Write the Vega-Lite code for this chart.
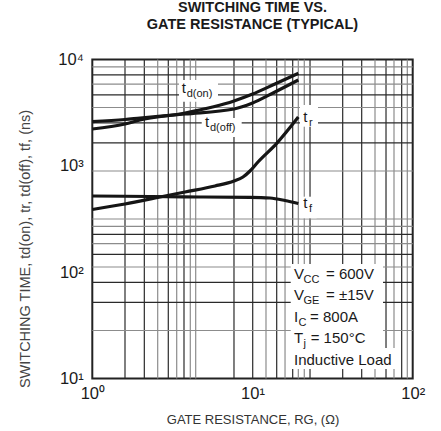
{
  "$schema": "https://vega.github.io/schema/vega-lite/v6.json",
  "autosize": {"type": "none"},
  "padding": {"left": 92.3, "top": 59.5, "right": 28.3, "bottom": 52.5},
  "width": 320.4,
  "height": 319,
  "background": "white",
  "title": {
    "text": ["SWITCHING TIME VS.", "GATE RESISTANCE (TYPICAL)"],
    "font": "Liberation Sans",
    "fontSize": 14.5,
    "fontWeight": "bold",
    "color": "#1a1a1a",
    "lineHeight": 17,
    "anchor": "middle",
    "frame": "group",
    "offset": 19
  },
  "datasets": {
    "curves": [
      {"series": "td(on)", "r": 1, "t": 2221},
      {"series": "td(on)", "r": 1.6, "t": 2475},
      {"series": "td(on)", "r": 1.985, "t": 2698},
      {"series": "td(on)", "r": 3.791, "t": 3141},
      {"series": "td(on)", "r": 7.664, "t": 4072},
      {"series": "td(on)", "r": 9.93, "t": 4708},
      {"series": "td(on)", "r": 13.81, "t": 5885},
      {"series": "td(on)", "r": 19.32, "t": 7419},
      {"series": "td(off)", "r": 1, "t": 2601},
      {"series": "td(off)", "r": 1.6, "t": 2728},
      {"series": "td(off)", "r": 1.985, "t": 2818},
      {"series": "td(off)", "r": 3.791, "t": 3073},
      {"series": "td(off)", "r": 7.664, "t": 3424},
      {"series": "td(off)", "r": 9.93, "t": 3875},
      {"series": "td(off)", "r": 13.81, "t": 4948},
      {"series": "td(off)", "r": 19.32, "t": 6417},
      {"series": "tr", "r": 1, "t": 388.6},
      {"series": "tr", "r": 1.6, "t": 437.6},
      {"series": "tr", "r": 2.647, "t": 509.3},
      {"series": "tr", "r": 3.791, "t": 567.5},
      {"series": "tr", "r": 5.834, "t": 646.3},
      {"series": "tr", "r": 7.664, "t": 720.1},
      {"series": "tr", "r": 8.723, "t": 785.3},
      {"series": "tr", "r": 9.647, "t": 894.4},
      {"series": "tr", "r": 10.82, "t": 1087},
      {"series": "tr", "r": 14.16, "t": 1629},
      {"series": "tr", "r": 19.32, "t": 2880},
      {"series": "tf", "r": 1, "t": 520.4},
      {"series": "tf", "r": 2.292, "t": 514.8},
      {"series": "tf", "r": 4.702, "t": 509.3},
      {"series": "tf", "r": 9.647, "t": 506},
      {"series": "tf", "r": 12.86, "t": 498.4},
      {"series": "tf", "r": 15.96, "t": 472.2},
      {"series": "tf", "r": 19.32, "t": 442.4}
    ],
    "gridVDark": [
      {"r": 1.6}, {"r": 2.112}, {"r": 2.981}, {"r": 3.736},
      {"r": 7.664}, {"r": 10.03}, {"r": 14.16}, {"r": 17.82}, {"r": 22.86},
      {"r": 36.56}, {"r": 48.04}, {"r": 68.14}, {"r": 85.36}
    ],
    "gridVLight": [
      {"r": 2.56}, {"r": 3.364}, {"r": 4.09}, {"r": 4.42},
      {"r": 12.14}, {"r": 15.96}, {"r": 19.32}, {"r": 21.05},
      {"r": 58.17}, {"r": 76.43}, {"r": 92.53}
    ],
    "gridHDark": [
      {"t": 1643}, {"t": 2530}, {"t": 4648}, {"t": 7155},
      {"t": 51.96}, {"t": 80}, {"t": 147}, {"t": 226.3}
    ],
    "gridHLight": [
      {"t": 894.4}, {"t": 3536}, {"t": 5857}, {"t": 8538}, {"t": 316.2},
      {"t": 28.28}, {"t": 111.8}, {"t": 185.2}, {"t": 270}
    ],
    "boxes": [
      {"r": 3.477, "r2": 6.09, "t": 4011, "t2": 6417},
      {"r": 4.818, "r2": 8.561, "t": 1867, "t2": 2818},
      {"r": 19.8, "r2": 25.64, "t": 2334, "t2": 3734},
      {"r": 19.8, "r2": 25.16, "t": 321.1, "t2": 512.6},
      {"r": 17.32, "r2": 65.26, "t": 77.4, "t2": 119.4},
      {"r": 17.32, "r2": 65.26, "t": 48.06, "t2": 77.4},
      {"r": 17.32, "r2": 65.26, "t": 30.5, "t2": 48.06},
      {"r": 17.32, "r2": 65.26, "t": 19.35, "t2": 30.5},
      {"r": 17.32, "r2": 81.3, "t": 12.28, "t2": 19.35}
    ],
    "mainText": [
      {"label": "t", "r": 3.614, "t": 4842},
      {"label": "t", "r": 5.051, "t": 2334},
      {"label": "t", "r": 20.76, "t": 2601},
      {"label": "t", "r": 20.76, "t": 398.8},
      {"label": "V", "r": 18.16, "t": 86.26},
      {"label": "= 600V", "r": 28.76, "t": 86.26},
      {"label": "V", "r": 18.16, "t": 54.74},
      {"label": "= ±15V", "r": 28.76, "t": 54.74},
      {"label": "I", "r": 18.16, "t": 34.0},
      {"label": "= 800A", "r": 22.86, "t": 34.0},
      {"label": "T", "r": 18.16, "t": 21.57},
      {"label": "= 150°C", "r": 23.08, "t": 21.57},
      {"label": "Inductive Load", "r": 18.16, "t": 13.54}
    ],
    "subText": [
      {"label": "d(on)", "r": 3.885, "t": 4842},
      {"label": "d(off)", "r": 5.429, "t": 2334},
      {"label": "r", "r": 22.53, "t": 2601},
      {"label": "f", "r": 22.53, "t": 398.8},
      {"label": "CC", "r": 20.82, "t": 86.26},
      {"label": "GE", "r": 20.82, "t": 54.74},
      {"label": "C", "r": 19.37, "t": 34.0},
      {"label": "j", "r": 20.82, "t": 21.57}
    ]
  },
  "layer": [
    {
      "data": {"name": "curves"},
      "mark": {"type": "line", "color": "#151515", "strokeWidth": 3.2, "interpolate": "monotone", "opacity": 0},
      "encoding": {
        "x": {
          "field": "r", "type": "quantitative",
          "scale": {"type": "log", "domain": [1, 100], "nice": false},
          "axis": {
            "values": [1, 10, 100],
            "labelExpr": "datum.value == 1 ? '10⁰' : datum.value == 10 ? '10¹' : '10²'",
            "labelPadding": 7,
            "title": "GATE RESISTANCE, RG, (Ω)",
            "titleFontSize": 13,
            "titleBaseline": "alphabetic",
            "titleY": 44.5
          }
        },
        "y": {
          "field": "t", "type": "quantitative",
          "scale": {"type": "log", "domain": [10, 10000], "nice": false},
          "axis": {
            "values": [10, 100, 1000, 10000],
            "labelExpr": "datum.value == 10 ? '10¹' : datum.value == 100 ? '10²' : datum.value == 1000 ? '10³' : '10⁴'",
            "labelPadding": 9,
            "title": "SWITCHING TIME, td(on), tr, td(off), tf, (ns)",
            "titleFontSize": 14.5,
            "titleColor": "#444",
            "titleX": -67,
            "titleY": 189,
            "titleBaseline": "middle",
            "titleAngle": 270
          }
        },
        "detail": {"field": "series", "type": "nominal"}
      }
    },
    {
      "data": {"name": "gridVDark"},
      "mark": {"type": "rule", "color": "#2a2a2a", "strokeWidth": 1.2},
      "encoding": {
        "x": {"field": "r", "type": "quantitative", "scale": {"type": "log", "domain": [1, 100], "nice": false}}
      }
    },
    {
      "data": {"name": "gridVLight"},
      "mark": {"type": "rule", "color": "#8c8c8c", "strokeWidth": 1.2},
      "encoding": {
        "x": {"field": "r", "type": "quantitative", "scale": {"type": "log", "domain": [1, 100], "nice": false}}
      }
    },
    {
      "data": {"name": "gridHDark"},
      "mark": {"type": "rule", "color": "#2a2a2a", "strokeWidth": 1.2},
      "encoding": {
        "y": {"field": "t", "type": "quantitative", "scale": {"type": "log", "domain": [10, 10000], "nice": false}}
      }
    },
    {
      "data": {"name": "gridHLight"},
      "mark": {"type": "rule", "color": "#8c8c8c", "strokeWidth": 1.2},
      "encoding": {
        "y": {"field": "t", "type": "quantitative", "scale": {"type": "log", "domain": [10, 10000], "nice": false}}
      }
    },
    {
      "data": {"name": "curves"},
      "mark": {"type": "line", "color": "#151515", "strokeWidth": 3.2, "interpolate": "monotone"},
      "encoding": {
        "x": {"field": "r", "type": "quantitative", "scale": {"type": "log", "domain": [1, 100], "nice": false}},
        "y": {"field": "t", "type": "quantitative", "scale": {"type": "log", "domain": [10, 10000], "nice": false}},
        "detail": {"field": "series", "type": "nominal"}
      }
    },
    {
      "data": {"name": "boxes"},
      "mark": {"type": "rect", "color": "white", "opacity": 1},
      "encoding": {
        "x": {"field": "r", "type": "quantitative", "scale": {"type": "log", "domain": [1, 100], "nice": false}},
        "x2": {"field": "r2"},
        "y": {"field": "t", "type": "quantitative", "scale": {"type": "log", "domain": [10, 10000], "nice": false}},
        "y2": {"field": "t2"}
      }
    },
    {
      "data": {"name": "mainText"},
      "mark": {"type": "text", "align": "left", "baseline": "alphabetic", "font": "Liberation Sans", "fontSize": 15, "color": "#1a1a1a"},
      "encoding": {
        "x": {"field": "r", "type": "quantitative", "scale": {"type": "log", "domain": [1, 100], "nice": false}},
        "y": {"field": "t", "type": "quantitative", "scale": {"type": "log", "domain": [10, 10000], "nice": false}},
        "text": {"field": "label"}
      }
    },
    {
      "data": {"name": "subText"},
      "mark": {"type": "text", "align": "left", "baseline": "alphabetic", "font": "Liberation Sans", "fontSize": 11, "dy": 4, "color": "#1a1a1a"},
      "encoding": {
        "x": {"field": "r", "type": "quantitative", "scale": {"type": "log", "domain": [1, 100], "nice": false}},
        "y": {"field": "t", "type": "quantitative", "scale": {"type": "log", "domain": [10, 10000], "nice": false}},
        "text": {"field": "label"}
      }
    }
  ],
  "config": {
    "view": {"stroke": "#222", "strokeWidth": 2},
    "axis": {
      "labelFont": "Liberation Sans",
      "labelFontSize": 16.5,
      "labelColor": "#1a1a1a",
      "titleFont": "Liberation Sans",
      "titleFontWeight": "normal",
      "titleColor": "#333",
      "ticks": false,
      "domain": false,
      "grid": false,
      "labelFlush": false,
      "labelOverlap": false
    }
  }
}
